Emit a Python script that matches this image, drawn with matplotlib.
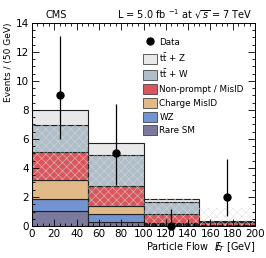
import numpy as np
import matplotlib
matplotlib.use("Agg")
import matplotlib.pyplot as plt
from matplotlib.patches import Patch
from matplotlib.lines import Line2D
from matplotlib.ticker import MultipleLocator

# bins in MET (GeV)
bin_edges = [0, 50, 100, 150, 200]

# stacked backgrounds, bottom to top
rare_sm = [1.05, 0.28, 0.05, 0.03]
wz = [0.80, 0.52, 0.10, 0.05]
charge_misid = [1.30, 0.58, 0.05, 0.02]
nonprompt = [1.95, 1.38, 0.60, 0.18]
ttw = [1.85, 2.16, 0.85, 0.02]
ttz = [1.05, 0.80, 0.23, 0.02]

# uncertainty band (lower, upper)
band_lo = [3.2, 1.4, 0.0, 0.0]
band_hi = [7.0, 4.9, 1.9, 1.25]

# data
data_x = [25, 75, 125, 175]
data_y = [9, 5, 0, 2]
data_lo = [6.0, 2.8, 0.0, 0.7]
data_hi = [13.1, 8.4, 1.15, 4.65]

labels = ["Rare SM", "WZ", "Charge MisID", "Non-prompt / MisID",
          r"t$\bar{\rm t}$ + W", r"t$\bar{\rm t}$ + Z"]
colors = ["#7b7a9c", "#7393d2", "#e2ba88", "#d9575c", "#afbec8", "#e8e8e8"]
stack = [rare_sm, wz, charge_misid, nonprompt, ttw, ttz]

plt.rcParams['font.size'] = 7
plt.rcParams['hatch.linewidth'] = 0.4

fig = plt.figure(figsize=(2.66, 2.58), dpi=100)
ax = fig.add_axes([0.12, 0.124, 0.839, 0.787])

left = np.array(bin_edges[:-1])
width = np.diff(bin_edges)
bottom = np.zeros(len(left))
for vals, c in zip(stack, colors):
    ax.bar(left, vals, width=width, bottom=bottom, align='edge', color=c,
           edgecolor='#222222', linewidth=0.8)
    bottom += np.array(vals)

# uncertainty hatch
lo = np.array(band_lo)
hi = np.array(band_hi)
ax.bar(left, hi - lo, width=width, bottom=lo, align='edge', fill=False,
       hatch='xxxx', edgecolor='#dadada', linewidth=0, alpha=0.8)

# data points
yerr = [np.array(data_y) - np.array(data_lo), np.array(data_hi) - np.array(data_y)]
ax.errorbar(data_x, data_y, yerr=yerr, fmt='o', color='black', ms=5,
            elinewidth=0.9, capsize=0, zorder=5, clip_on=False)

ax.set_xlim(0, 200)
ax.set_ylim(0, 14)
ax.xaxis.set_major_locator(MultipleLocator(20))
ax.xaxis.set_minor_locator(MultipleLocator(5))
ax.yaxis.set_major_locator(MultipleLocator(2))
ax.yaxis.set_minor_locator(MultipleLocator(0.5))
ax.tick_params(which='both', direction='in', top=True, right=True, labelsize=7.5)
ax.tick_params(which='major', length=5, width=0.6, pad=2)
ax.tick_params(which='minor', length=2.5, width=0.6)
for s in ax.spines.values():
    s.set_linewidth(0.7)

ax.set_ylabel("Events / (50 GeV)", fontsize=6.5, loc='top', labelpad=2)
ax.set_xlabel(r"Particle Flow  $E\!\!\!/_{T}$ [GeV]", fontsize=7, loc='right', labelpad=1)

fig.text(0.12 + 0.05, 0.93, "CMS", fontsize=7)
fig.text(0.95, 0.93, r"L = 5.0 fb $^{-1}$ at $\sqrt{s}$ = 7 TeV", fontsize=7, ha='right')

handles = [Line2D([], [], marker='o', color='black', ls='none', ms=5)]
handles += [Patch(facecolor=c, edgecolor='#444444', linewidth=0.6) for c in colors[::-1]]
leg_labels = ["Data"] + labels[::-1]
ax.legend(handles, leg_labels, loc='upper right', frameon=False, fontsize=6.3,
          handlelength=1.6, handleheight=1.4, labelspacing=0.42,
          handletextpad=0.3, bbox_to_anchor=(0.985, 0.97))

fig.savefig("out.png", dpi=100)
